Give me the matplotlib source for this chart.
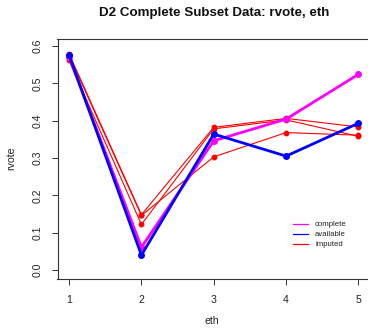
import matplotlib
matplotlib.use("Agg")
import matplotlib.pyplot as plt

plt.rcParams['font.family'] = ['Liberation Sans', 'DejaVu Sans']

eth = [1, 2, 3, 4, 5]
complete = [0.570, 0.061, 0.346, 0.404, 0.524]
available = [0.575, 0.040, 0.364, 0.305, 0.393]
imputed1 = [0.579, 0.148, 0.382, 0.406, 0.383]
imputed2 = [0.575, 0.146, 0.303, 0.368, 0.361]
imputed3 = [0.561, 0.122, 0.378, 0.402, 0.358]
yticks = [0.0, 0.1, 0.2, 0.3, 0.4, 0.5, 0.6]

fig = plt.figure(figsize=(3.68, 3.29), dpi=100)
W, H = 368, 329
left, right, bottom, top = 57.5, 370, 279, 39
ax = fig.add_axes([left / W, (H - bottom) / H, (right - left) / W, (bottom - top) / H])

for imp in (imputed1, imputed2, imputed3):
    ax.plot(eth, imp, color='#ff0000', lw=0.8, marker='o', ms=3.2, mec='#ff0000', mfc='#ff0000')
ax.plot(eth, complete, color='#ff00ff', lw=2.0, marker='o', ms=4, mec='#ff00ff', mfc='#ff00ff')
ax.plot(eth, available, color='#0000ff', lw=2.0, marker='o', ms=4, mec='#0000ff', mfc='#0000ff')

ax.set_xlim(0.84, 5.16)
ax.set_ylim(-0.024, 0.6185)
ax.set_xticks(eth)
ax.set_yticks(yticks)
ax.set_yticklabels([f"{v:.1f}" for v in yticks], rotation=90, va='center')
ax.tick_params(axis='both', labelsize=7.6, length=4.3, width=0.7, color='#333333',
               labelcolor='#222222')
ax.tick_params(axis='x', pad=7.5)
ax.tick_params(axis='y', pad=6.5)
for s in ax.spines.values():
    s.set_linewidth(0.8)
    s.set_color('#333333')

fig.text(214 / W, 1 - 13 / H, "D2 Complete Subset Data: rvote, eth", ha='center', va='center',
         fontsize=9.6, fontweight='bold', color='#111111')
fig.text(212 / W, 1 - 321 / H, "eth", ha='center', va='center', fontsize=7.6, color='#222222')
fig.text(11 / W, 1 - 158 / H, "rvote", ha='center', va='center', rotation=90, fontsize=7.6,
         color='#222222')

# legend (no frame)
leg_items = [("complete", '#ff00ff'), ("available", '#0000ff'), ("imputed", '#ff0000')]
for i, (lab, col) in enumerate(leg_items):
    yy = 1 - (224 + 10 * i) / H
    fig.add_artist(plt.Line2D([293 / W, 308 / W], [yy, yy], color=col, lw=0.9,
                              transform=fig.transFigure))
    fig.text(315 / W, yy, lab, ha='left', va='center', fontsize=5.6, color='#222222')

fig.savefig("out.png", dpi=100)
